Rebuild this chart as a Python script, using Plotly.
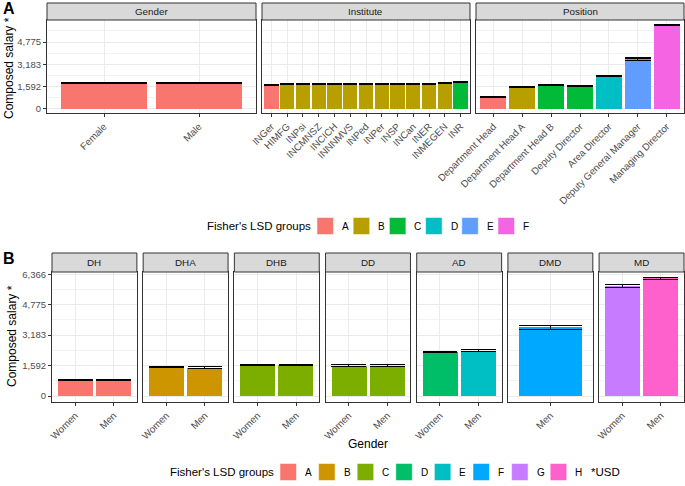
import plotly.graph_objects as go

# ---------------- data ----------------
gender_cats = ["Female", "Male"]
gender_vals = [1820, 1840]
gender_errs = [35, 35]
gender_grp = ["A", "A"]

inst_cats = ["INGer", "HIMFG", "INPsi", "INCMNSZ", "INCICH", "INNNMVS", "INPed",
             "INPer", "INSP", "INCan", "INER", "INMEGEN", "INR"]
inst_vals = [1690, 1765, 1765, 1765, 1780, 1780, 1790, 1795, 1795, 1800, 1800, 1820, 1940]
inst_errs = [35, 35, 35, 35, 35, 35, 35, 35, 35, 35, 35, 35, 35]
inst_grp = ["A", "B", "B", "B", "B", "B", "B", "B", "B", "B", "B", "B", "C"]

pos_cats = ["Department Head", "Department Head A", "Department Head B", "Deputy Director",
            "Area Director", "Deputy General Manager", "Managing Director"]
pos_vals = [860, 1535, 1680, 1650, 2365, 3550, 6000]
pos_errs = [35, 35, 35, 35, 35, 85, 55]
pos_grp = ["A", "B", "C", "C", "D", "E", "F"]

b_facets = ["DH", "DHA", "DHB", "DD", "AD", "DMD", "MD"]
b_cats = [["Women", "Men"], ["Women", "Men"], ["Women", "Men"], ["Women", "Men"],
          ["Women", "Men"], ["Men"], ["Women", "Men"]]
b_vals = [[830, 830], [1528, 1492], [1633, 1633], [1596, 1596],
          [2311, 2379], [3589], [5754, 6150]]
b_errs = [[35, 35], [35, 35], [35, 35], [35, 35], [35, 35], [104], [78, 50]]
b_grp = [["A", "A"], ["B", "B"], ["C", "C"], ["C", "C"], ["D", "E"], ["F"], ["G", "H"]]

y_ticks = [0, 1592, 3183, 4775, 6366]
y_ticktext = ["0", "1,592", "3,183", "4,775", "6,366"]
y_minor = [796, 2387.5, 3979, 5570.5]

legend_a = ["A", "B", "C", "D", "E", "F"]
legend_b = ["A", "B", "C", "D", "E", "F", "G", "H"]

# ---------------- styles ----------------
pal6 = {"A": "#F8766D", "B": "#B79F00", "C": "#00BA38", "D": "#00BFC4", "E": "#619CFF", "F": "#F564E3"}
pal8 = {"A": "#F8766D", "B": "#CD9600", "C": "#7CAE00", "D": "#00BE67", "E": "#00BFC4",
        "F": "#00A9FF", "G": "#C77CFF", "H": "#FF61CC"}

W, H = 685, 486
FONT = "Liberation Sans, Arial, sans-serif"
BORDER = "#333333"
GRID = "#EBEBEB"
TICKC = "#4D4D4D"


def px(x):
    return x / W


def py(y):
    return 1 - y / H


fig = go.Figure()
layout = {}
shapes = []
annotations = []

# panel geometry in pixels
rowA = (20, 113)
rowB = (272, 402)
stripA = (3, 20)
stripB = (253, 272)
a_x = [(47, 256), (262, 470), (476, 684)]
b_left, b_right, b_gap = 52, 684, 6.3
b_w = (b_right - b_left - 6 * b_gap) / 7
b_x = [(b_left + i * (b_w + b_gap), b_left + i * (b_w + b_gap) + b_w) for i in range(7)]

panels = []
panels.append(dict(title="Gender", cats=gender_cats, vals=gender_vals, errs=gender_errs,
                   grp=gender_grp, pal=pal6, xd=a_x[0], yd=rowA, sd=stripA, first=True, rng=[-303, 6358]))
panels.append(dict(title="Institute", cats=inst_cats, vals=inst_vals, errs=inst_errs,
                   grp=inst_grp, pal=pal6, xd=a_x[1], yd=rowA, sd=stripA, first=False, rng=[-303, 6358]))
panels.append(dict(title="Position", cats=pos_cats, vals=pos_vals, errs=pos_errs,
                   grp=pos_grp, pal=pal6, xd=a_x[2], yd=rowA, sd=stripA, first=False, rng=[-303, 6358]))
for i in range(7):
    panels.append(dict(title=b_facets[i], cats=b_cats[i], vals=b_vals[i], errs=b_errs[i],
                       grp=b_grp[i], pal=pal8, xd=b_x[i], yd=rowB, sd=stripB, first=(i == 0),
                       rng=[-310, 6480]))

for k, p in enumerate(panels, start=1):
    xs = "x" if k == 1 else f"x{k}"
    ys = "y" if k == 1 else f"y{k}"
    xk = "xaxis" if k == 1 else f"xaxis{k}"
    yk = "yaxis" if k == 1 else f"yaxis{k}"
    n = len(p["cats"])
    pw = p["xd"][1] - p["xd"][0]
    capw = pw / (n + 0.2) * 0.9 / 2
    fig.add_trace(go.Bar(
        x=p["cats"], y=p["vals"], xaxis=xs, yaxis=ys, width=0.9,
        marker=dict(color=[p["pal"][g] for g in p["grp"]], line=dict(width=0)),
        error_y=dict(type="data", array=p["errs"], visible=True, color="black",
                     thickness=1.1, width=capw),
        showlegend=False, hoverinfo="x+y"))
    layout[xk] = dict(domain=[px(p["xd"][0]), px(p["xd"][1])], anchor=ys, type="category",
                      range=[-0.6, n - 0.4], showgrid=True, gridcolor=GRID, gridwidth=1,
                      showline=True, mirror=True, linecolor=BORDER, linewidth=1,
                      ticks="outside", ticklen=3, tickcolor=BORDER, tickwidth=1,
                      tickangle=-45, tickfont=dict(family=FONT, size=9.8, color=TICKC),
                      automargin=False, zeroline=False, fixedrange=True)
    layout[yk] = dict(domain=[py(p["yd"][1]), py(p["yd"][0])], anchor=xs, range=p["rng"],
                      tickvals=y_ticks, ticktext=y_ticktext,
                      showticklabels=p["first"], ticks="outside" if p["first"] else "",
                      ticklen=3, tickcolor=BORDER, tickwidth=1,
                      tickfont=dict(family=FONT, size=9.5, color=TICKC),
                      showgrid=True, gridcolor=GRID, gridwidth=1,
                      minor=dict(tickvals=y_minor, showgrid=True, gridcolor="#F3F3F3",
                                 gridwidth=0.6, ticks=""),
                      showline=True, mirror=True, linecolor=BORDER, linewidth=1,
                      zeroline=False, automargin=False, fixedrange=True)
    # strip
    shapes.append(dict(type="rect", xref="paper", yref="paper",
                       x0=px(p["xd"][0]), x1=px(p["xd"][1]),
                       y0=py(p["sd"][1]), y1=py(p["sd"][0]),
                       fillcolor="#D9D9D9", line=dict(color=BORDER, width=1), layer="above"))
    annotations.append(dict(text=p["title"], xref="paper", yref="paper",
                            x=px((p["xd"][0] + p["xd"][1]) / 2), y=py((p["sd"][0] + p["sd"][1]) / 2),
                            showarrow=False, xanchor="center", yanchor="middle",
                            font=dict(family=FONT, size=9.8, color="#1A1A1A")))

# axis titles and panel tags
annotations.append(dict(text="Composed salary *", xref="paper", yref="paper", x=px(9), y=py(68),
                        textangle=-90, showarrow=False, xanchor="center", yanchor="middle",
                        font=dict(family=FONT, size=12, color="black")))
annotations.append(dict(text="Composed salary *", xref="paper", yref="paper", x=px(12), y=py(336),
                        textangle=-90, showarrow=False, xanchor="center", yanchor="middle",
                        font=dict(family=FONT, size=12, color="black")))
annotations.append(dict(text="Gender", xref="paper", yref="paper", x=px(368), y=py(444),
                        showarrow=False, xanchor="center", yanchor="middle",
                        font=dict(family=FONT, size=12, color="black")))
annotations.append(dict(text="<b>A</b>", xref="paper", yref="paper", x=px(1), y=py(9),
                        showarrow=False, xanchor="left", yanchor="middle",
                        font=dict(family=FONT, size=16, color="black")))
annotations.append(dict(text="<b>B</b>", xref="paper", yref="paper", x=px(1), y=py(258),
                        showarrow=False, xanchor="left", yanchor="middle",
                        font=dict(family=FONT, size=16, color="black")))


def draw_legend(title_x, yc, key_x0, step, letters, pal, extra=None, extra_x=None):
    annotations.append(dict(text="Fisher's LSD groups", xref="paper", yref="paper",
                            x=px(title_x), y=py(yc), showarrow=False, xanchor="left",
                            yanchor="middle", font=dict(family=FONT, size=11.5, color="black")))
    for i, g in enumerate(letters):
        x0 = key_x0 + i * step
        shapes.append(dict(type="rect", xref="paper", yref="paper",
                           x0=px(x0), x1=px(x0 + 16.5), y0=py(yc + 8.5), y1=py(yc - 8.5),
                           fillcolor=pal[g], line=dict(color="white", width=0.5)))
        annotations.append(dict(text=g, xref="paper", yref="paper", x=px(x0 + 23), y=py(yc),
                                showarrow=False, xanchor="left", yanchor="middle",
                                font=dict(family=FONT, size=10, color="black")))
    if extra:
        annotations.append(dict(text=extra, xref="paper", yref="paper", x=px(extra_x), y=py(yc),
                                showarrow=False, xanchor="left", yanchor="middle",
                                font=dict(family=FONT, size=11.5, color="black")))


draw_legend(205, 226, 317, 36.2, legend_a, pal6)
draw_legend(168, 472, 280, 38.6, legend_b, pal8, extra="*USD", extra_x=589)

fig.update_layout(**layout)
fig.update_layout(width=W, height=H, margin=dict(l=0, r=0, t=0, b=0),
                  paper_bgcolor="white", plot_bgcolor="white",
                  shapes=shapes, annotations=annotations, showlegend=False,
                  bargap=0, font=dict(family=FONT))

fig.write_html("out.html", config={"displayModeBar": False},
               post_script="document.body.style.margin='0px';document.body.style.overflow='hidden';")
